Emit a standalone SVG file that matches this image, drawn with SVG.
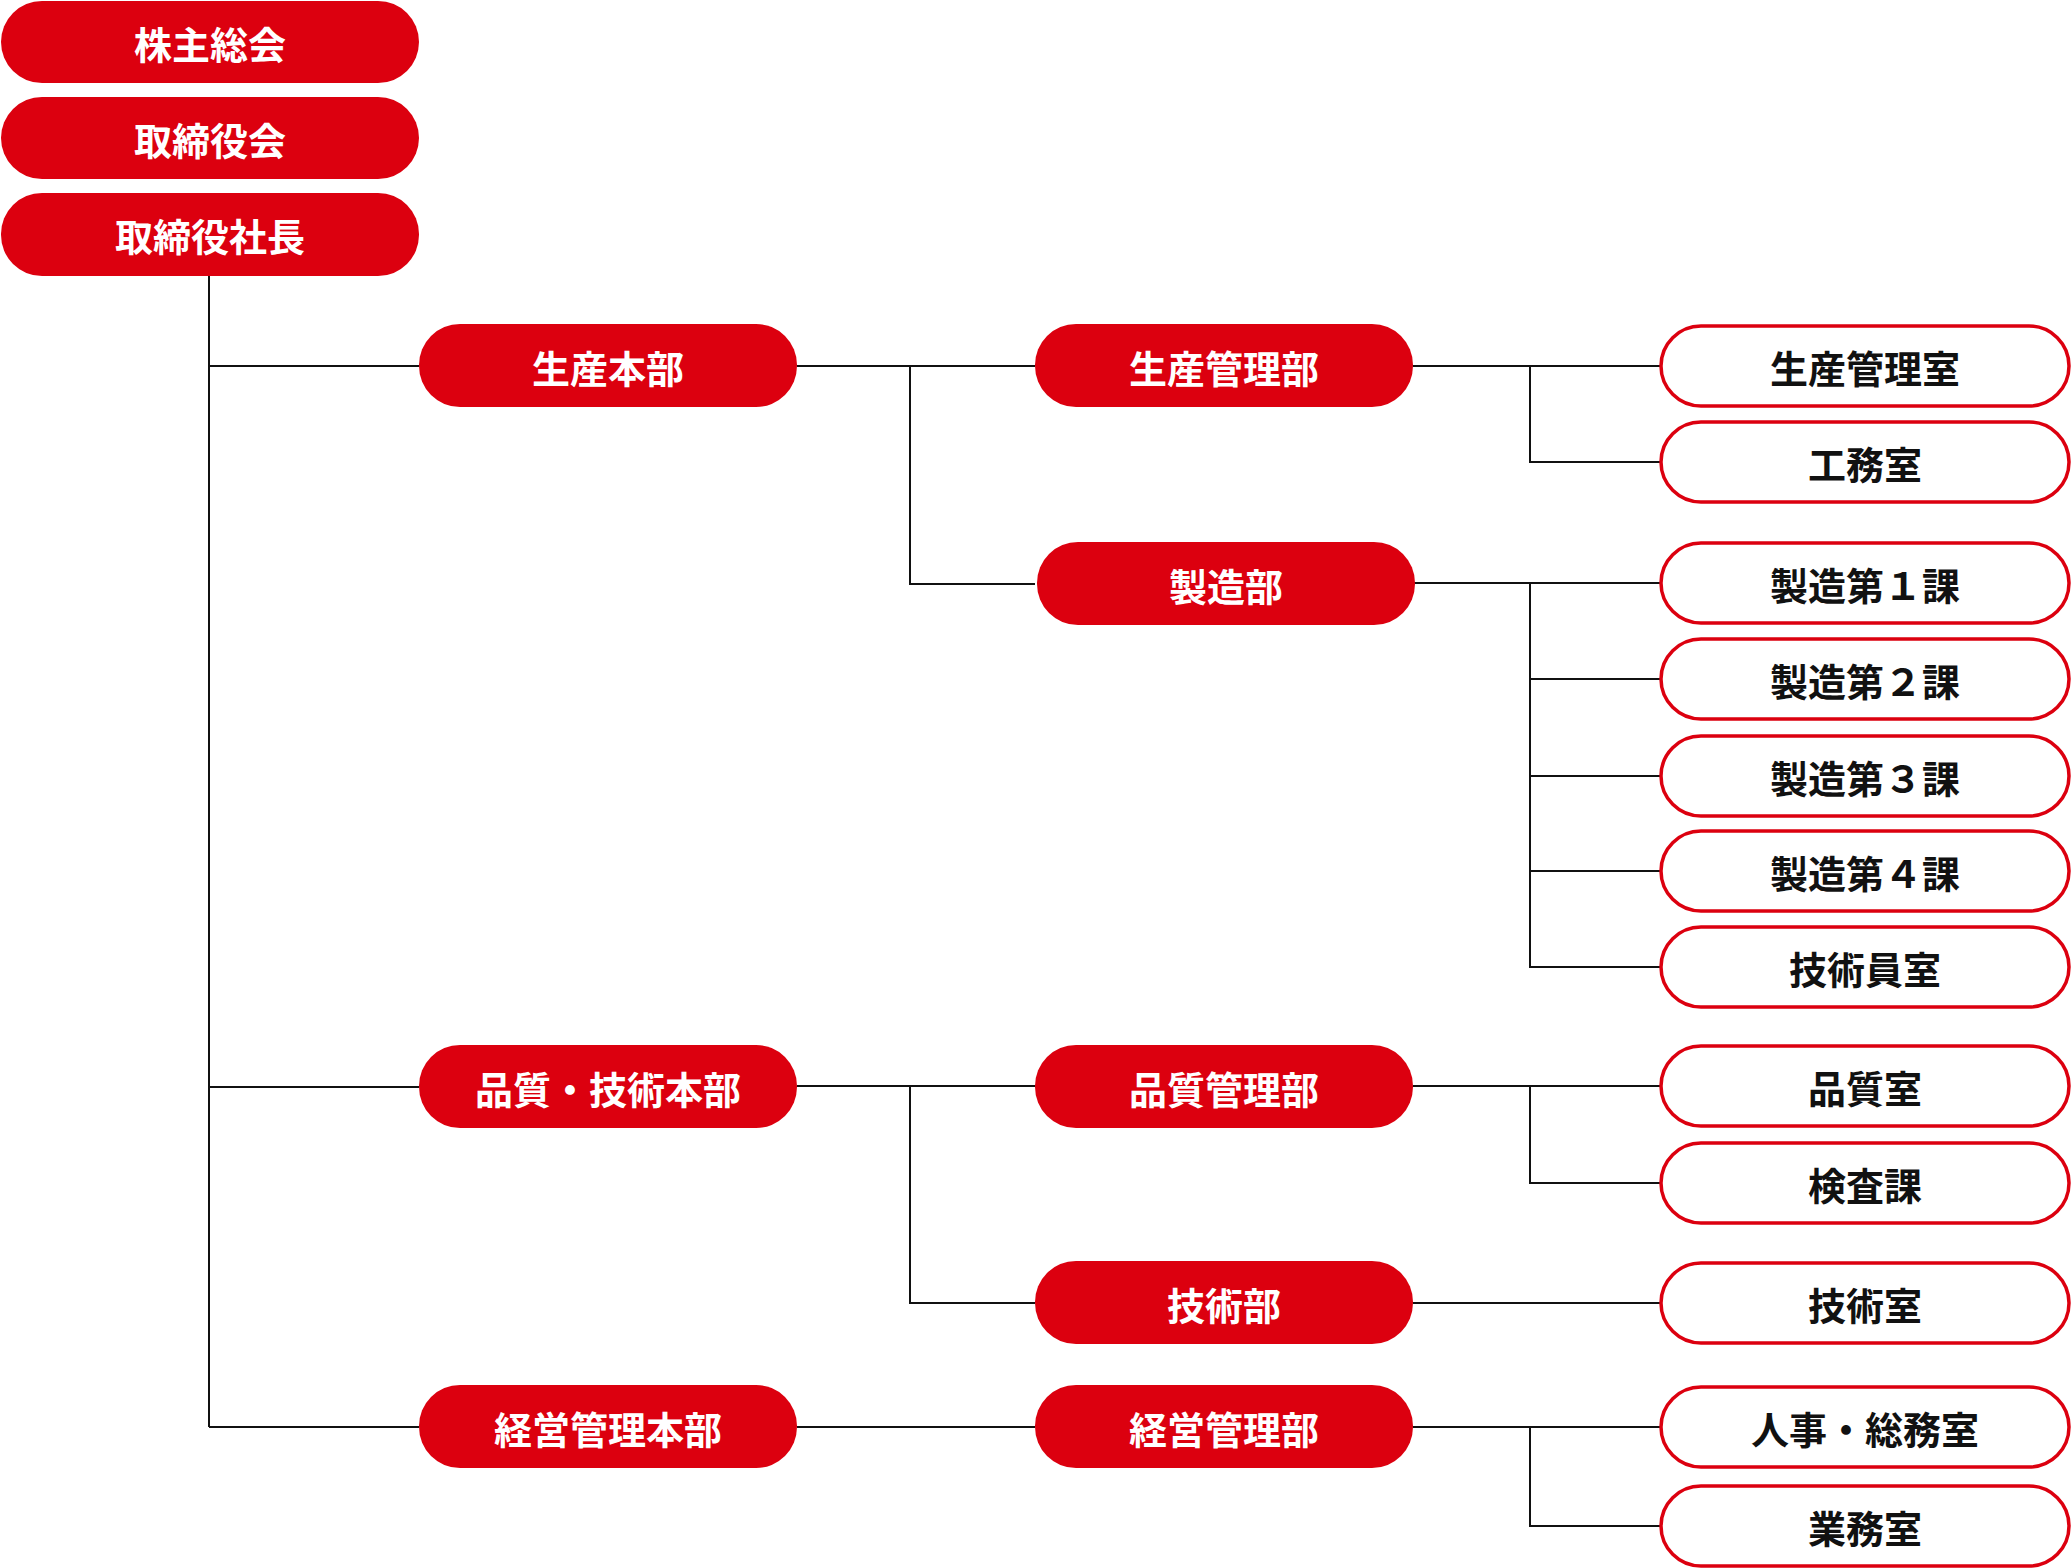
<svg xmlns="http://www.w3.org/2000/svg" width="2072" height="1568" viewBox="0 0 2072 1568">
<style>
.r{fill:#dc000f}
.w{fill:#fff;stroke:#dc000f;stroke-width:3.5}
text{font-family:"Noto Sans CJK JP","Noto Sans",sans-serif;font-weight:700;font-size:38px;text-anchor:middle;dominant-baseline:central}
.r+text{fill:#fff}
.w+text{fill:#111}
#c{stroke:#111;stroke-width:2;fill:none}
</style>
<rect width="2072" height="1568" fill="#fff"/>
<g id="c">
<path d="M209 276V1427M209 366H419M209 1087H419M209 1427H419"/>
<path d="M797 366H1035M910 366V584H1035M797 1086H1035M910 1086V1303H1035M797 1427H1035"/>
<path d="M1413 366H1661M1530 366V462H1661"/>
<path d="M1413 583H1661M1530 583V967H1661M1530 679H1661M1530 776H1661M1530 871H1661"/>
<path d="M1413 1086H1661M1530 1086V1183H1661M1413 1303H1661M1413 1427H1661M1530 1427V1526H1661"/>
</g>
<g id="n1"><rect class="r" x="1" y="1" width="418" height="82" rx="41"/><text x="210" y="42">株主総会</text></g>
<g id="n2"><rect class="r" x="1" y="97" width="418" height="82" rx="41"/><text x="210" y="138">取締役会</text></g>
<g id="n3"><rect class="r" x="1" y="193" width="418" height="83" rx="41"/><text x="210" y="234">取締役社長</text></g>
<g id="n4"><rect class="r" x="419" y="324" width="378" height="83" rx="41"/><text x="608" y="366">生産本部</text></g>
<g id="n5"><rect class="r" x="419" y="1045" width="378" height="83" rx="41"/><text x="608" y="1087">品質・技術本部</text></g>
<g id="n6"><rect class="r" x="419" y="1385" width="378" height="83" rx="41"/><text x="608" y="1427">経営管理本部</text></g>
<g id="n7"><rect class="r" x="1035" y="324" width="378" height="83" rx="41"/><text x="1224" y="366">生産管理部</text></g>
<g id="n8"><rect class="r" x="1037" y="542" width="378" height="83" rx="41"/><text x="1226" y="584">製造部</text></g>
<g id="n9"><rect class="r" x="1035" y="1045" width="378" height="83" rx="41"/><text x="1224" y="1087">品質管理部</text></g>
<g id="n10"><rect class="r" x="1035" y="1261" width="378" height="83" rx="41"/><text x="1224" y="1303">技術部</text></g>
<g id="n11"><rect class="r" x="1035" y="1385" width="378" height="83" rx="41"/><text x="1224" y="1427">経営管理部</text></g>
<g id="m1"><rect class="w" x="1661" y="326" width="408" height="80" rx="40"/><text x="1865" y="366">生産管理室</text></g>
<g id="m2"><rect class="w" x="1661" y="422" width="408" height="80" rx="40"/><text x="1865" y="462">工務室</text></g>
<g id="m3"><rect class="w" x="1661" y="543" width="408" height="80" rx="40"/><text x="1865" y="583">製造第１課</text></g>
<g id="m4"><rect class="w" x="1661" y="639" width="408" height="80" rx="40"/><text x="1865" y="679">製造第２課</text></g>
<g id="m5"><rect class="w" x="1661" y="736" width="408" height="80" rx="40"/><text x="1865" y="776">製造第３課</text></g>
<g id="m6"><rect class="w" x="1661" y="831" width="408" height="80" rx="40"/><text x="1865" y="871">製造第４課</text></g>
<g id="m7"><rect class="w" x="1661" y="927" width="408" height="80" rx="40"/><text x="1865" y="967">技術員室</text></g>
<g id="m8"><rect class="w" x="1661" y="1046" width="408" height="80" rx="40"/><text x="1865" y="1086">品質室</text></g>
<g id="m9"><rect class="w" x="1661" y="1143" width="408" height="80" rx="40"/><text x="1865" y="1183">検査課</text></g>
<g id="m10"><rect class="w" x="1661" y="1263" width="408" height="80" rx="40"/><text x="1865" y="1303">技術室</text></g>
<g id="m11"><rect class="w" x="1661" y="1387" width="408" height="80" rx="40"/><text x="1865" y="1427">人事・総務室</text></g>
<g id="m12"><rect class="w" x="1661" y="1486" width="408" height="80" rx="40"/><text x="1865" y="1526">業務室</text></g>
</svg>
